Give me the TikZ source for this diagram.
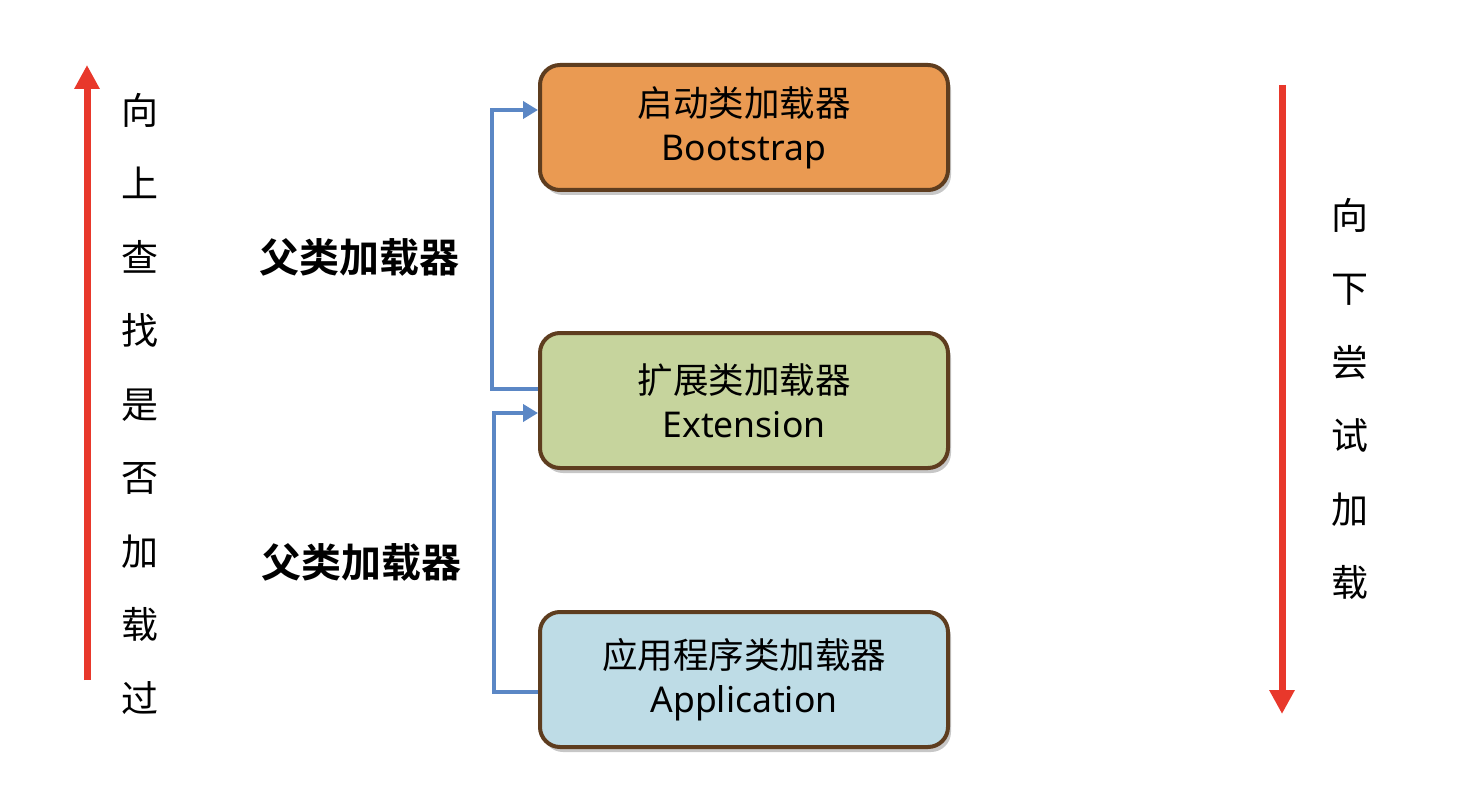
\documentclass[tikz,border=0pt]{standalone}
\usepackage{fontspec}
\setmainfont{Noto Sans}
\newfontfamily\cjk{Noto Sans CJK SC}
\newfontfamily\cjkb{Noto Sans CJK SC Bold}
\usetikzlibrary{arrows.meta,shadows}
\definecolor{borderbrown}{HTML}{5E3D1F}
\definecolor{bootfill}{HTML}{EA9A52}
\definecolor{extfill}{HTML}{C6D49D}
\definecolor{appfill}{HTML}{BEDCE6}
\definecolor{connblue}{HTML}{5B87C5}
\definecolor{arrred}{HTML}{E8382B}
\tikzset{
  loaderbox/.style={draw=borderbrown, line width=4pt, rounded corners=20pt,
    minimum width=408pt, align=center, inner sep=0pt,
    font=\fontsize{35.5}{44}\selectfont,
    drop shadow={shadow xshift=3pt, shadow yshift=-5pt, opacity=0.22, fill=black}},
  conn/.style={draw=connblue, line width=4pt, rounded corners=0pt,
    -{Triangle[length=15pt,width=17pt]}},
  redarrow/.style={draw=arrred, line width=7pt, -{Triangle[length=24pt,width=24pt]}},
  parentlabel/.style={font=\cjkb\fontsize{40}{44}\selectfont, inner sep=0pt},
  vlabel/.style={font=\cjk\fontsize{37}{73.5}\selectfont, align=center, inner sep=0pt}
}
\begin{document}
\begin{tikzpicture}[x=1pt,y=-1pt]
\useasboundingbox (0,0) rectangle (1474,786);
\fill[white] (0,0) rectangle (1474,786);

% boxes
\node[loaderbox, fill=bootfill, minimum height=125pt] (boot) at (744,127.5)
  {{\cjk 启动类加载器}\\Bootstrap};
\node[loaderbox, fill=extfill, minimum height=135pt] (ext) at (744,400.5)
  {{\cjk 扩展类加载器}\\Extension};
\node[loaderbox, fill=appfill, minimum height=135pt] (app) at (744,679.5)
  {{\cjk 应用程序类加载器}\\Application};

% connectors
\draw[conn] ([yshift=12pt]ext.west) -- ++(-46,0) |- ([yshift=17.5pt]boot.west);
\draw[conn] ([yshift=-12.5pt]app.west) -- ++(-44,0) |- ([yshift=-12.5pt]ext.west);

% parent labels
\node[parentlabel] (p1) at (359,257) {父类加载器};
\node[parentlabel] (p2) at (361,562) {父类加载器};

% red arrows
\coordinate (lbot) at (87,680);
\coordinate (ltop) at (87,65);
\draw[redarrow] (lbot) -- (ltop);
\coordinate (rtop) at (1282,85);
\coordinate (rbot) at (1282,714);
\draw[redarrow] (rtop) -- (rbot);

% vertical texts
\node[vlabel] (up) at (140,403.5) {向\\上\\查\\找\\是\\否\\加\\载\\过};
\node[vlabel] (down) at (1350,399) {向\\下\\尝\\试\\加\\载};
\end{tikzpicture}
\end{document}
